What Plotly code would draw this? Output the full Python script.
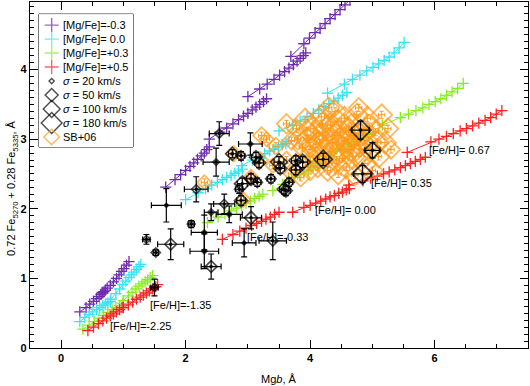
import plotly.graph_objects as go

# ---------------- colours ----------------
PURPLE = "#6F2AAE"
CYAN = "#36E4F2"
GREEN = "#88EE22"
RED = "#FF2222"
ORANGE = "#FF9A1A"

# ---------------- model grids ([Fe/H] = -2.25, -1.35, -0.33, 0.00, 0.35, 0.67; segments split by None) ----
MGFE_M03_X = [0.30, 0.40, 0.46, 0.52, 0.57, 0.61, 0.64, 0.67, 0.69, 0.71, None,
              0.66, 0.74, 0.79, 0.84, 0.89, 0.93, 0.97, 1.01, 1.05, 1.09, None,
              1.68, 1.83, 1.92, 2.00, 2.07, 2.13, 2.19, 2.25, 2.30, 2.34, 2.38, None,
              2.38, 2.55, 2.66, 2.76, 2.85, 2.93, 3.00, 3.07, 3.13, 3.19, 3.25, 3.30, None,
              3.00, 3.19, 3.31, 3.42, 3.51, 3.59, 3.66, 3.73, 3.79, 3.84, 3.89, 3.93, None,
              3.69, 3.90, 3.99, 4.08, 4.16, 4.24, 4.32, 4.40, 4.48, 4.56, 4.64, 4.72]
MGFE_M03_Y = [0.52, 0.58, 0.63, 0.67, 0.71, 0.74, 0.77, 0.79, 0.81, 0.83, None,
              0.80, 0.86, 0.90, 0.95, 1.00, 1.05, 1.10, 1.14, 1.19, 1.24, None,
              2.31, 2.42, 2.49, 2.55, 2.61, 2.66, 2.71, 2.76, 2.80, 2.85, 2.89, None,
              3.00, 3.10, 3.16, 3.22, 3.28, 3.33, 3.37, 3.42, 3.46, 3.50, 3.54, 3.58, None,
              3.61, 3.72, 3.79, 3.86, 3.92, 3.97, 4.02, 4.07, 4.12, 4.16, 4.20, 4.24, None,
              4.19, 4.37, 4.45, 4.53, 4.59, 4.66, 4.73, 4.79, 4.86, 4.93, 5.00, 5.07]

MGFE_00_X = [0.30, 0.38, 0.45, 0.51, 0.57, 0.62, 0.67, 0.71, 0.75, 0.79, None,
             0.80, 0.88, 0.94, 0.99, 1.04, 1.09, 1.13, 1.17, 1.21, 1.25, 1.28, None,
             2.00, 2.20, 2.32, 2.42, 2.51, 2.59, 2.66, 2.73, 2.79, 2.85, 2.91, None,
             2.90, 3.08, 3.18, 3.27, 3.35, 3.42, 3.49, 3.55, 3.61, 3.66, None,
             3.50, 3.72, 3.84, 3.95, 4.05, 4.14, 4.22, 4.30, 4.38, 4.45, 4.52, 4.59, None,
             4.28, 4.55, 4.68, 4.80, 4.91, 5.01, 5.10, 5.19, 5.27, 5.35, 5.43, 5.51]
MGFE_00_Y = [0.38, 0.44, 0.48, 0.52, 0.55, 0.58, 0.61, 0.63, 0.65, 0.67, None,
             0.70, 0.78, 0.85, 0.91, 0.96, 1.01, 1.05, 1.09, 1.13, 1.17, 1.20, None,
             2.13, 2.23, 2.29, 2.34, 2.38, 2.42, 2.45, 2.48, 2.51, 2.54, 2.57, None,
             2.62, 2.70, 2.75, 2.79, 2.83, 2.86, 2.89, 2.92, 2.94, 2.97, None,
             3.12, 3.20, 3.26, 3.32, 3.37, 3.42, 3.47, 3.51, 3.55, 3.59, 3.63, 3.67, None,
             3.66, 3.79, 3.86, 3.92, 3.98, 4.03, 4.08, 4.13, 4.18, 4.24, 4.31, 4.39]

MGFE_P03_X = [0.35, 0.45, 0.53, 0.61, 0.68, 0.75, 0.82, 0.88, 0.94, 0.99, None,
              1.00, 1.08, 1.14, 1.20, 1.25, 1.30, 1.35, 1.39, 1.43, 1.47, None,
              2.35, 2.52, 2.63, 2.73, 2.82, 2.90, 2.97, 3.04, 3.11, 3.18, 3.24, None,
              3.40, 3.56, 3.66, 3.75, 3.83, 3.90, 3.97, 4.03, 4.09, 4.15, None,
              4.00, 4.20, 4.32, 4.43, 4.53, 4.62, 4.71, 4.79, 4.87, 4.95, 5.02, None,
              5.16, 5.45, 5.58, 5.70, 5.81, 5.91, 6.01, 6.10, 6.19, 6.28, 6.37, 6.46]
MGFE_P03_Y = [0.27, 0.33, 0.38, 0.43, 0.47, 0.51, 0.55, 0.58, 0.61, 0.64, None,
              0.68, 0.75, 0.80, 0.85, 0.89, 0.92, 0.95, 0.98, 1.01, 1.04, None,
              1.80, 1.88, 1.93, 1.97, 2.01, 2.05, 2.08, 2.11, 2.15, 2.18, 2.21, None,
              2.26, 2.35, 2.40, 2.45, 2.49, 2.53, 2.56, 2.59, 2.62, 2.65, None,
              2.68, 2.76, 2.81, 2.85, 2.89, 2.93, 2.96, 3.00, 3.03, 3.07, 3.10, None,
              3.20, 3.31, 3.36, 3.41, 3.45, 3.50, 3.54, 3.58, 3.63, 3.68, 3.73, 3.80]

MGFE_P05_X = [0.43, 0.52, 0.60, 0.67, 0.73, 0.79, 0.84, 0.89, 0.94, 0.98, None,
              1.00, 1.08, 1.15, 1.21, 1.27, 1.32, 1.37, 1.42, 1.47, 1.52, 1.55, None,
              2.59, 2.76, 2.87, 2.97, 3.06, 3.14, 3.22, 3.29, 3.36, 3.43, 3.50, None,
              3.72, 3.90, 4.00, 4.09, 4.17, 4.25, 4.32, 4.39, 4.46, 4.52, 4.58, 4.63, None,
              4.62, 4.85, 4.97, 5.08, 5.18, 5.27, 5.36, 5.45, 5.53, 5.61, 5.69, 5.77, 5.85, None,
              5.56, 5.94, 6.07, 6.19, 6.30, 6.41, 6.51, 6.61, 6.71, 6.81, 6.90, 6.99, 7.08]
MGFE_P05_Y = [0.25, 0.30, 0.35, 0.39, 0.43, 0.46, 0.49, 0.52, 0.55, 0.58, None,
              0.58, 0.62, 0.66, 0.70, 0.73, 0.76, 0.79, 0.82, 0.85, 0.88, 0.91, None,
              1.56, 1.63, 1.68, 1.72, 1.76, 1.79, 1.82, 1.85, 1.88, 1.92, 1.95, None,
              1.95, 2.02, 2.05, 2.08, 2.11, 2.14, 2.17, 2.19, 2.22, 2.24, 2.27, 2.29, None,
              2.34, 2.40, 2.44, 2.47, 2.50, 2.53, 2.56, 2.59, 2.62, 2.65, 2.68, 2.71, 2.74, None,
              2.81, 2.96, 3.00, 3.04, 3.08, 3.12, 3.15, 3.19, 3.23, 3.27, 3.31, 3.36, 3.41]

# ---------------- [Fe/H] labels ----------------
FEH_LABELS = ["[Fe/H]=-2.25", "[Fe/H]=-1.35", "[Fe/H]=-0.33",
              "[Fe/H]= 0.00", "[Fe/H]= 0.35", "[Fe/H]= 0.67"]
FEH_LABEL_X = [0.75, 1.39, 2.96, 4.04, 4.95, 5.88]
FEH_LABEL_Y = [0.32, 0.62, 1.60, 1.98, 2.37, 2.85]

# ---------------- SB+06 sample ----------------
SB_X = [2.30, 2.77, 2.93, 3.22, 3.30, 3.05, 3.20, 3.45, 3.40, 3.62, 3.70, 3.78, 3.62, 3.85, 3.70,
        3.92, 3.95, 3.98, 4.05, 4.08, 4.12, 4.18, 4.20, 4.22, 4.28, 4.33, 4.36, 4.40, 4.42, 4.48,
        4.50, 4.55, 4.58, 4.62, 4.66, 4.68, 4.72, 4.75, 4.80, 4.85, 4.88, 4.92, 4.96, 5.00, 5.05,
        5.10, 5.15, 5.20, 5.25, 4.30, 4.00, 4.45, 4.78, 5.30, 3.88, 4.15, 4.60, 4.25, 4.70,
        4.10, 4.27, 4.40, 4.55, 4.72, 4.88, 4.35, 4.52, 4.80, 4.10, 4.62, 4.95, 4.45, 4.20,
        3.95, 5.08, 4.65, 4.30, 3.80, 4.00]
SB_Y = [2.38, 2.79, 2.13, 3.05, 3.00, 2.45, 2.70, 2.90, 2.62, 3.22, 2.98, 3.15, 2.70, 2.45, 2.50,
        3.28, 3.00, 2.75, 3.15, 2.88, 2.60, 3.32, 3.05, 2.80, 2.55, 3.20, 2.95, 3.40, 2.70, 3.10,
        2.85, 3.30, 2.60, 3.00, 3.18, 2.75, 2.48, 3.35, 2.92, 3.10, 2.65, 3.30, 2.85, 2.55, 3.10,
        2.75, 3.35, 2.95, 3.15, 3.45, 2.55, 2.50, 3.45, 2.85, 2.88, 2.95, 2.95, 3.15, 3.05,
        3.08, 2.98, 3.05, 2.98, 2.92, 2.98, 2.82, 2.72, 2.80, 2.72, 3.12, 3.18, 3.25, 3.22,
        3.12, 2.95, 2.85, 2.65, 3.00, 2.90]
SB_SIZE = [11, 12, 11, 13, 11, 12, 12, 13, 11, 15, 14, 15, 13, 14, 12,
           17, 18, 17, 19, 19, 16, 18, 20, 19, 16, 19, 20, 17, 19, 20,
           20, 18, 18, 20, 19, 19, 16, 17, 19, 19, 18, 18, 19, 16, 18,
           17, 16, 17, 16, 16, 15, 16, 15, 14, 16, 18, 18, 18, 18,
           19, 20, 20, 20, 19, 19, 19, 19, 19, 18, 19, 18, 18, 18,
           17, 17, 19, 17, 16, 18]

# ---------------- this work (clusters / galaxies) ----------------
OBS_X = [2.54, 3.04, 2.49, 2.75, 2.89, 3.13, 3.18, 3.50, 3.52, 3.77, 3.88, 3.77, 4.21, 3.05, 3.15,
         2.91, 3.37, 3.58, 3.66, 2.89, 2.86, 2.62, 2.41, 2.70, 3.05, 2.09, 2.30, 1.69, 2.17, 1.76,
         1.52, 2.30, 3.40, 2.94, 2.41, 1.37, 1.50, 3.61, 4.81, 5.00, 4.84]
OBS_Y = [3.08, 2.93, 2.67, 2.79, 2.76, 2.74, 2.66, 2.67, 2.58, 2.69, 2.67, 2.56, 2.71, 2.43, 2.38,
         2.36, 2.43, 2.28, 2.38, 2.12, 2.28, 2.07, 1.95, 1.92, 1.87, 1.78, 1.66, 2.05, 2.28, 1.49,
         1.37, 1.39, 1.54, 1.51, 1.17, 1.56, 0.87, 2.26, 3.13, 2.84, 2.50]
OBS_XERR = [0.16, 0.19, 0.21, 0.06, 0.06, 0.07, 0.07, 0.08, 0.07, 0.07, 0.08, 0.07, 0.09, 0.07, 0.06,
            0.08, 0.06, 0.07, 0.06, 0.07, 0.06, 0.17, 0.11, 0.21, 0.17, 0.05, 0.21, 0.24, 0.19, 0.21,
            0.04, 0.23, 0.22, 0.19, 0.16, 0.06, 0.06, 0.07, 0.14, 0.12, 0.14]
OBS_YERR = [0.17, 0.16, 0.20, 0.06, 0.06, 0.07, 0.07, 0.08, 0.07, 0.07, 0.08, 0.07, 0.09, 0.07, 0.06,
            0.08, 0.06, 0.07, 0.06, 0.07, 0.06, 0.14, 0.12, 0.12, 0.16, 0.05, 0.25, 0.24, 0.18, 0.22,
            0.04, 0.25, 0.27, 0.20, 0.18, 0.07, 0.12, 0.07, 0.13, 0.11, 0.12]
OBS_SIZE = [7, 4, 5, 10, 8, 10, 10, 13, 10, 10, 12, 10, 14, 10, 8,
            12, 8, 10, 8, 10, 7, 7, 5, 4, 10, 6, 4, 3, 7, 9,
            7, 4, 8, 3, 9, 6, 6, 10, 16, 13, 16]

# ---------------- legend ----------------
LEGEND_LABELS = ["[Mg/Fe]=-0.3", "[Mg/Fe]= 0.0", "[Mg/Fe]=+0.3", "[Mg/Fe]=+0.5",
                 "<i>σ</i> = 20 km/s", "<i>σ</i> = 50 km/s", "<i>σ</i> = 100 km/s",
                 "<i>σ</i> = 180 km/s", "SB+06"]
LEGEND_SYMBOLS = ["cross-thin-open"] * 4 + ["diamond-open"] * 5
LEGEND_COLORS = [PURPLE, CYAN, GREEN, RED, "black", "black", "black", "black", ORANGE]
LEGEND_SIZES = [10, 10, 10, 10, 4, 10, 13, 16, 12]

X_TITLE = "Mg<i>b</i>, Å"
Y_TITLE = "0.72 Fe<sub>5270</sub> + 0.28 Fe<sub>5335</sub>, Å"

FONT = "Liberation Sans, Arial, Helvetica, sans-serif"

fig = go.Figure()

for xs, ys, col in [(MGFE_M03_X, MGFE_M03_Y, PURPLE), (MGFE_00_X, MGFE_00_Y, CYAN),
                    (MGFE_P03_X, MGFE_P03_Y, GREEN), (MGFE_P05_X, MGFE_P05_Y, RED)]:
    fig.add_trace(go.Scatter(
        x=xs, y=ys, mode="lines+markers", connectgaps=False,
        line=dict(color=col, width=1),
        marker=dict(symbol="cross-thin-open", size=8, color=col,
                    line=dict(color=col, width=1.3)),
        showlegend=False, hoverinfo="skip"))

fig.add_trace(go.Scatter(
    x=SB_X, y=SB_Y, mode="markers",
    marker=dict(symbol="diamond-open", size=SB_SIZE, color=ORANGE,
                line=dict(color=ORANGE, width=1.8)),
    error_x=dict(type="constant", value=0.05, color=ORANGE, thickness=1, width=2),
    error_y=dict(type="constant", value=0.05, color=ORANGE, thickness=1, width=2),
    showlegend=False, hoverinfo="skip"))

fig.add_trace(go.Scatter(
    x=OBS_X, y=OBS_Y, mode="markers",
    marker=dict(symbol="diamond-open", size=OBS_SIZE, color="black",
                line=dict(color="black", width=1.7)),
    error_x=dict(type="data", array=OBS_XERR, color="black", thickness=1.2, width=3),
    error_y=dict(type="data", array=OBS_YERR, color="black", thickness=1.2, width=3),
    showlegend=False, hoverinfo="skip"))

fig.add_trace(go.Scatter(
    x=OBS_X, y=OBS_Y, mode="markers",
    marker=dict(symbol="circle", size=3.5, color="black"),
    showlegend=False, hoverinfo="skip"))

# custom legend on an overlay axis
n = len(LEGEND_LABELS)
leg_y = [1 - (11 + 14 * i) / 133 for i in range(n)]
fig.add_trace(go.Scatter(
    x=[0.135] * n, y=leg_y, mode="markers", xaxis="x2", yaxis="y2",
    marker=dict(symbol=LEGEND_SYMBOLS, size=LEGEND_SIZES, color=LEGEND_COLORS,
                line=dict(color=LEGEND_COLORS, width=1.4)),
    showlegend=False, hoverinfo="skip"))
for lab, yy in zip(LEGEND_LABELS, leg_y):
    fig.add_annotation(x=0.235, y=yy, xref="x2", yref="y2", text=lab, showarrow=False,
                       xanchor="left", yanchor="middle",
                       font=dict(family=FONT, size=11, color="black"))

fig.add_shape(type="rect", xref="paper", yref="paper", x0=0.018, x1=0.207, y0=0.581, y1=0.965,
              line=dict(color="black", width=1), fillcolor="white", layer="below")

for lab, lx, ly in zip(FEH_LABELS, FEH_LABEL_X, FEH_LABEL_Y):
    fig.add_annotation(x=lx, y=ly, text=lab, showarrow=False, xanchor="left", yanchor="middle",
                       font=dict(family=FONT, size=11, color="black"))

# axis titles
fig.add_annotation(x=0.5, y=-0.09, xref="paper", yref="paper", text=X_TITLE, showarrow=False,
                   xanchor="center", yanchor="middle", font=dict(family=FONT, size=11))
fig.add_annotation(x=-0.036, y=0.46, xref="paper", yref="paper", text=Y_TITLE, showarrow=False,
                   textangle=-90, xanchor="center", yanchor="middle", font=dict(family=FONT, size=11))

axis_common = dict(showline=True, linecolor="black", linewidth=1.2, mirror="ticks",
                   ticks="inside", ticklen=8, tickwidth=1.2, tickcolor="black",
                   showgrid=False, zeroline=False, automargin=False,
                   tickfont=dict(family=FONT, size=11, color="black", weight="bold"))

fig.update_layout(
    width=530, height=386,
    margin=dict(l=30, r=2, t=2, b=38),
    paper_bgcolor="white", plot_bgcolor="white",
    font=dict(family=FONT, size=11, color="black"),
    xaxis=dict(range=[-0.5, 7.5], tick0=0, dtick=2,
               minor=dict(ticks="inside", ticklen=4, dtick=0.5, tickcolor="black", tickwidth=1),
               **axis_common),
    yaxis=dict(range=[0, 4.97], tick0=0, dtick=1,
               minor=dict(ticks="inside", ticklen=4, dtick=0.1, tickcolor="black", tickwidth=1),
               **axis_common),
    xaxis2=dict(domain=[0.018, 0.207], range=[0, 1], anchor="y2", visible=False, fixedrange=True),
    yaxis2=dict(domain=[0.581, 0.965], range=[0, 1], anchor="x2", visible=False, fixedrange=True),
    showlegend=False,
)

fig.write_html("out.html", config={"displayModeBar": False},
               post_script="document.body.style.margin='0';document.body.style.overflow='hidden';")
